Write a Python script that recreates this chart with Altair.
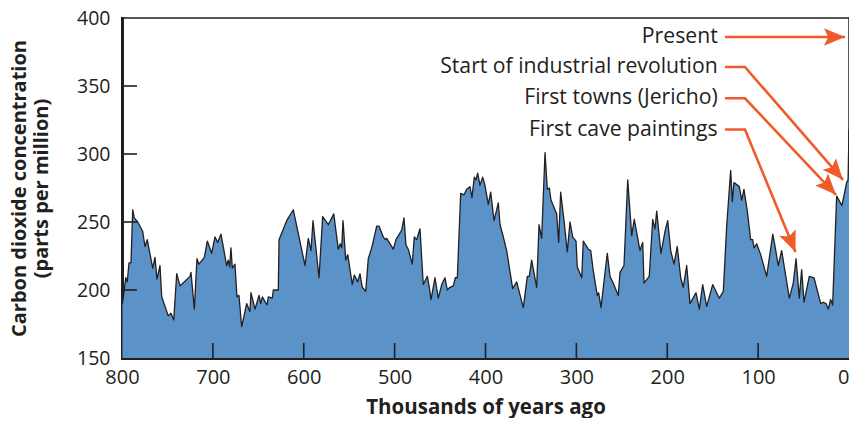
import math
import altair as alt
import pandas as pd

# ---- data ----
kyr = [799.5, 795.9, 794.2, 792.3, 790.1, 788.2, 786.5, 782.7, 777.2, 774.7, 772.2, 766.2, 763.7, 761.5,
       758.2, 756.3, 749.1, 746.1, 743.1, 739.8, 736.2, 725.2, 724.1, 720.4, 717.5, 715.3, 709.4, 706.1,
       701.3, 697.7, 694.7, 691.1, 684.8, 683.0, 681.5, 680.1, 678.6, 675.7, 673.5, 671.3, 668.3, 662.8,
       659.2, 658.1, 653.6, 649.2, 647.4, 645.6, 640.4, 639.0, 634.6, 633.5, 628.0, 627.2, 618.8, 611.5,
       598.6, 595.0, 592.0, 589.8, 583.2, 579.2, 573.0, 567.0, 562.0, 559.8, 558.2, 556.8, 553.8, 551.6,
       546.6, 544.4, 540.6, 538.1, 535.6, 531.8, 529.0, 525.2, 519.7, 517.2, 512.5, 510.3, 508.7, 501.5,
       498.5, 492.2, 489.7, 487.5, 485.0, 480.6, 478.4, 475.7, 472.1, 468.5, 466.3, 464.0, 461.8, 460.0,
       455.6, 451.9, 448.2, 444.6, 442.0, 439.1, 435.4, 433.2, 431.0, 427.3, 423.7, 420.7, 417.1, 414.9,
       412.3, 410.5, 408.6, 406.1, 403.1, 400.6, 396.9, 394.3, 390.6, 385.9, 384.0, 380.4, 376.7, 370.1,
       365.7, 358.4, 354.0, 351.8, 349.2, 343.7, 341.1, 338.2, 334.5, 332.0, 329.8, 327.9, 321.7, 319.5,
       317.3, 313.6, 310.0, 307.0, 304.1, 300.4, 299.0, 294.1, 292.4, 286.9, 284.2, 281.4, 277.0, 275.5,
       272.9, 266.0, 263.0, 259.4, 253.9, 252.0, 247.6, 243.5, 239.1, 236.3, 230.0, 227.0, 225.6, 219.8,
       216.0, 213.5, 211.6, 206.9, 202.5, 199.5, 196.2, 192.6, 189.0, 185.2, 182.4, 178.6, 175.0, 168.4,
       164.7, 161.0, 156.6, 150.0, 142.7, 138.3, 134.6, 130.2, 128.4, 126.6, 120.7, 118.1, 115.6, 111.9,
       108.2, 106.0, 104.5, 101.6, 97.2, 90.6, 83.9, 81.4, 77.8, 74.1, 65.7, 61.3, 58.3, 54.7,
       52.1, 49.5, 43.7, 38.5, 31.1, 28.3, 25.3, 22.8, 20.2, 18.0, 13.6, 7.8, 2.6, 1.0, 0.0]
ppm = [190, 209, 206, 220, 220, 259, 253, 250, 243, 232, 237, 216, 224, 208,
       218, 195, 181, 183, 178, 212, 203, 210, 213, 186, 223, 219, 224, 236,
       227, 239, 235, 241, 218, 222, 217, 231, 216, 219, 195, 196, 173, 190,
       184, 198, 186, 196, 190, 195, 189, 195, 194, 200, 200, 237, 251, 259,
       218, 238, 229, 251, 209, 254, 248, 256, 230, 234, 231, 251, 222, 226,
       204, 211, 206, 212, 202, 199, 223, 231, 247, 247, 239, 237, 238, 230,
       237, 244, 253, 233, 230, 219, 239, 237, 245, 204, 207, 210, 202, 193,
       209, 194, 204, 209, 200, 202, 203, 209, 209, 271, 270, 274, 276, 268,
       283, 281, 286, 277, 283, 277, 263, 272, 251, 264, 248, 239, 229, 201,
       206, 187, 210, 210, 222, 202, 248, 238, 301, 274, 275, 266, 256, 235,
       272, 251, 228, 250, 239, 236, 217, 209, 236, 230, 229, 214, 196, 198,
       187, 227, 210, 205, 196, 213, 218, 281, 240, 252, 229, 235, 205, 210,
       252, 245, 258, 227, 243, 251, 229, 219, 232, 209, 202, 218, 190, 198,
       186, 204, 188, 204, 194, 199, 247, 288, 265, 279, 276, 266, 274, 258,
       237, 237, 231, 234, 226, 210, 241, 232, 218, 229, 194, 205, 223, 194,
       215, 191, 210, 209, 190, 191, 190, 186, 193, 189, 269, 262, 279, 281, 318]

x_label_values = [800, 700, 600, 500, 400, 300, 200, 100, 0]
y_label_values = [150, 200, 250, 300, 350, 400]
inner_x_ticks = [700, 600, 500, 400, 300, 200, 100]
inner_y_ticks = [200, 250, 300, 350]

ann_text = ["Present", "Start of industrial revolution", "First towns (Jericho)", "First cave paintings"]
ann_ppm = [386, 364, 341, 318]
ann_text_kyr = 144.5
ann_start_kyr = 136.5
ann_elbow_kyr = [None, 114.5, 114.5, 114.5]
tip_kyr = [4.4, 6.6, 14.3, 58.9]
tip_ppm = [386, 281, 270, 228]

# ---- styles ----
INK = "#231f20"
FILL = "#5b93c8"
ORANGE = "#f15a29"
FONT = "Open Sans"
W, H = 727, 340

xs = alt.Scale(domain=[0, 800], reverse=True, nice=False)
ys = alt.Scale(domain=[150, 400], nice=False, zero=False)

x_axis = alt.Axis(
    values=x_label_values, ticks=False, tickSize=0, grid=False,
    labelPadding=9, labelFont=FONT, labelFontSize=20, labelColor=INK,
    labelAlign=alt.expr("datum.value == 0 ? 'right' : 'center'"),
    domainColor=INK, domainWidth=3, domainCap="square",
    title="Thousands of years ago", titleFont=FONT, titleFontSize=20.5,
    titleFontWeight="bold", titleColor=INK, titleX=W / 2, titleY=49,
    titleBaseline="middle", titleAlign="center")
y_axis = alt.Axis(
    values=y_label_values, ticks=False, tickSize=0, grid=False,
    labelPadding=12, labelFont=FONT, labelFontSize=19.5, labelColor=INK,
    domainColor=INK, domainWidth=3, domainCap="square",
    title=["Carbon dioxide concentration", "(parts per million)"],
    titleFont=FONT, titleFontSize=20, titleFontWeight="bold", titleColor=INK,
    titleX=-103, titleY=H / 2, titleAngle=270, titleBaseline="middle",
    titleAlign="center", titleLineHeight=22)

df = pd.DataFrame({"kyr": kyr, "ppm": ppm})

area = alt.Chart(df).mark_area(
    color=FILL, opacity=1,
    line={"color": INK, "strokeWidth": 1.3, "strokeJoin": "round"}
).encode(
    x=alt.X("kyr:Q", scale=xs, axis=x_axis),
    y=alt.Y("ppm:Q", scale=ys, axis=y_axis),
    y2=alt.datum(150),
)

xt = pd.DataFrame({"kyr": inner_x_ticks})
xtick_layer = alt.Chart(xt).mark_rule(color=INK, strokeWidth=1.6).encode(
    x=alt.X("kyr:Q", scale=xs),
    y=alt.value(H), y2=alt.value(H - 15))

yt = pd.DataFrame({"ppm": inner_y_ticks})
ytick_layer = alt.Chart(yt).mark_rule(color=INK, strokeWidth=1.6).encode(
    y=alt.Y("ppm:Q", scale=ys),
    x=alt.value(0), x2=alt.value(15))

# annotation text
tdf = pd.DataFrame({"label": ann_text, "ppm": ann_ppm, "kyr": [ann_text_kyr] * len(ann_text)})
text_layer = alt.Chart(tdf).mark_text(
    align="right", baseline="middle", font=FONT, fontSize=21.2, color=INK
).encode(
    x=alt.X("kyr:Q", scale=xs),
    y=alt.Y("ppm:Q", scale=ys),
    text="label:N")

# arrow polylines
rows = []
heads = []
kx = W / 800.0
ky = H / 250.0
for i in range(len(ann_text)):
    pts = [(ann_start_kyr, ann_ppm[i])]
    if ann_elbow_kyr[i] is not None:
        pts.append((ann_elbow_kyr[i], ann_ppm[i]))
    pts.append((tip_kyr[i], tip_ppm[i]))
    for j, (k, p) in enumerate(pts):
        rows.append({"arrow": i, "order": j, "kyr": k, "ppm": p})
    (k0, p0), (k1, p1) = pts[-2], pts[-1]
    dx = -(k1 - k0) * kx
    dy = -(p1 - p0) * ky
    ang = math.degrees(math.atan2(dx, -dy)) % 360
    heads.append({"kyr": k1, "ppm": p1, "ang": ang})

adf = pd.DataFrame(rows)
arrow_lines = alt.Chart(adf).mark_line(
    color=ORANGE, strokeWidth=2.6, strokeJoin="miter", strokeCap="butt"
).encode(
    x=alt.X("kyr:Q", scale=xs),
    y=alt.Y("ppm:Q", scale=ys),
    detail="arrow:N", order="order:Q")

hdf = pd.DataFrame(heads)
arrow_heads = alt.Chart(hdf).mark_point(
    shape="M0,0L-0.42,1L0,0.8L0.42,1Z", filled=True, color=ORANGE,
    opacity=1, size=1764, strokeWidth=0
).encode(
    x=alt.X("kyr:Q", scale=xs),
    y=alt.Y("ppm:Q", scale=ys),
    angle=alt.Angle("ang:Q", scale=None))

chart = alt.layer(
    area, xtick_layer, ytick_layer, arrow_lines, arrow_heads, text_layer
).properties(
    width=W, height=H,
    padding={"left": 114, "top": 10, "right": 0, "bottom": 60},
    autosize=alt.AutoSizeParams(type="none"),
).configure_view(stroke=INK, strokeWidth=1.5)

chart.save("out.html", embed_options={"renderer": "svg", "actions": False})
